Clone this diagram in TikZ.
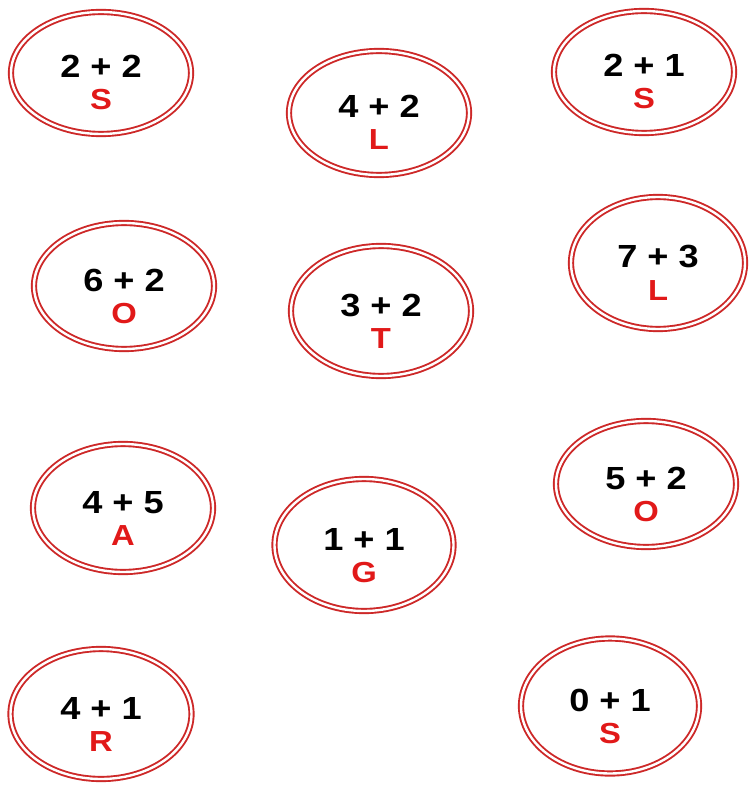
\documentclass[tikz,border=0pt]{standalone}
\usepackage{fontspec}
\setmainfont[FakeStretch=1.13]{Liberation Sans}
\usetikzlibrary{shapes.geometric}
\definecolor{ringred}{RGB}{205,40,40}
\definecolor{letred}{RGB}{225,25,25}
\tikzset{
  ring/.style={ellipse, draw=ringred, double=white, double distance=2.4pt, line width=1.9pt,
    minimum width=#1, minimum height=126pt, inner sep=0pt},
  ring/.default=182pt,
  sumtext/.style={font=\fontsize{32}{34}\selectfont\bfseries, text=black},
  lettext/.style={font=\fontsize{29}{31}\selectfont\bfseries, text=letred}
}
\newcommand{\ringitem}[6]{%
  \node[ring=#6, minimum height=#5] (#1) at (#2) {};
  \node[sumtext, anchor=base] (#1s) at ([yshift=-5pt]#1.center) {#3};
  \node[lettext, anchor=base] (#1l) at ([yshift=-37pt]#1.center) {#4};
}
\begin{document}
\begin{tikzpicture}[x=1pt,y=-1pt]
\useasboundingbox (0,0) rectangle (748,799);
\ringitem{a}{101,73}{2 + 2}{S}{122pt}{180pt}
\ringitem{b}{379,113}{4 + 2}{L}{124pt}{180pt}
\ringitem{c}{644,72}{2 + 1}{S}{122pt}{180pt}
\ringitem{d}{124,286}{6 + 2}{O}{126pt}{180pt}
\ringitem{e}{381,311}{3 + 2}{T}{130pt}{180pt}
\ringitem{f}{658,263}{7 + 3}{L}{132pt}{174pt}
\ringitem{g}{123,508}{4 + 5}{A}{128pt}{180pt}
\ringitem{h}{364,545}{1 + 1}{G}{132pt}{179pt}
\ringitem{i}{646,484}{5 + 2}{O}{126pt}{180pt}
\ringitem{j}{101,714}{4 + 1}{R}{130pt}{181pt}
\ringitem{k}{610,706}{0 + 1}{S}{135pt}{178pt}
\end{tikzpicture}
\end{document}
